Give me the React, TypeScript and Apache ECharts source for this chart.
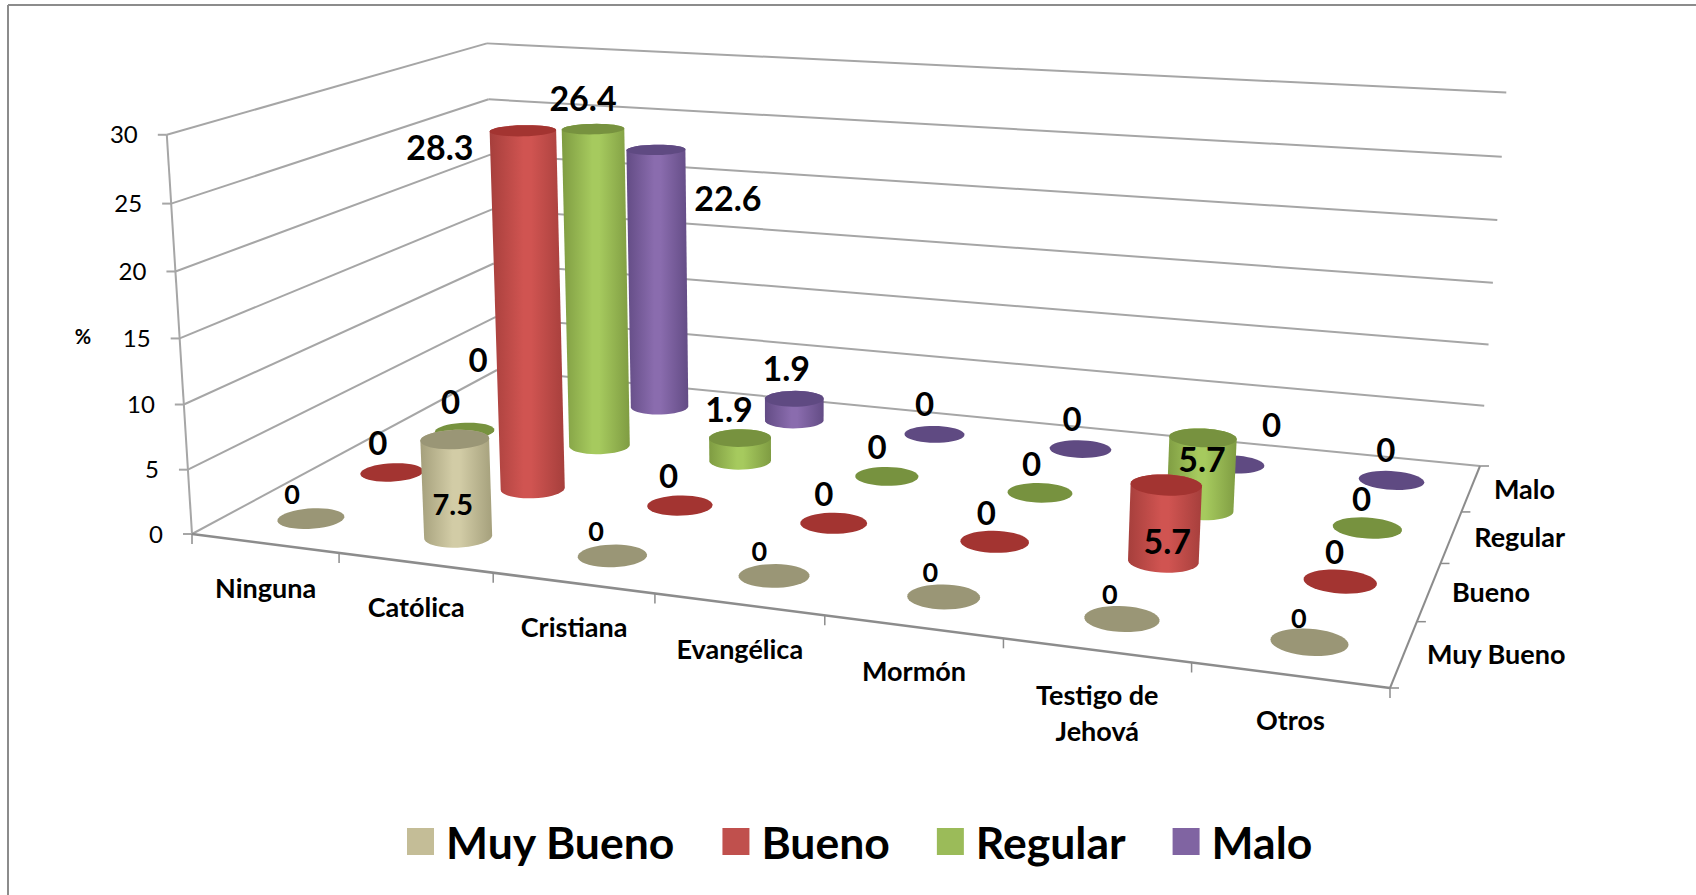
import React, { useEffect, useRef } from "react";
import * as echarts from "echarts";

const categories = ["Ninguna", "Católica", "Cristiana", "Evangélica", "Mormón", "Testigo de\nJehová", "Otros"];
const depthLabels = ["Muy Bueno", "Bueno", "Regular", "Malo"];
const yTicks = [0, 5, 10, 15, 20, 25, 30];
const muyBueno = [0, 7.5, 0, 0, 0, 0, 0];
const bueno = [0, 28.3, 0, 0, 0, 5.7, 0];
const regular = [0, 26.4, 1.9, 0, 0, 5.7, 0];
const malo = [0, 22.6, 1.9, 0, 0, 0, 0];

const FONT = "Lato, Carlito, 'Open Sans', sans-serif";
const Y_MAX = 30;

// ---- projection of the 3D box (u: category 0..1, v: depth 0..1, z: value 0..1)
const floor = [[192, 534], [1390, 688], [1480, 466], [497, 370]];
const wallRefs: number[][] = [
  [0, 0, 1, 164, 131], [0, 0, 5 / 6, 168, 201], [0, 0, 4 / 6, 172, 270], [0, 0, 3 / 6, 179, 337], [0, 0, 2 / 6, 183, 403], [0, 0, 1 / 6, 188, 469],
  [1, 1, 1, 1505, 95], [1, 1, 5 / 6, 1501, 159], [1, 1, 4 / 6, 1497, 221], [1, 1, 3 / 6, 1493, 284], [1, 1, 2 / 6, 1488, 345], [1, 1, 1 / 6, 1485, 408],
  [0, 1, 1, 491, 44], [0, 1, 5 / 6, 494, 100],
];

function buildProjection() {
  const [[x0, y0], [x1, y1], [x2, y2], [x3, y3]] = floor;
  const dx1 = x1 - x2, dx2 = x3 - x2, sx = x0 - x1 + x2 - x3;
  const dy1 = y1 - y2, dy2 = y3 - y2, sy = y0 - y1 + y2 - y3;
  const den = dx1 * dy2 - dx2 * dy1;
  const g = (sx * dy2 - dx2 * sy) / den, h = (dx1 * sy - sx * dy1) / den;
  const a = x1 - x0 + g * x1, b = x3 - x0 + h * x3, c = x0;
  const d = y1 - y0 + g * y1, e = y3 - y0 + h * y3, f = y0;
  // least squares for the z column
  const N = [[0, 0, 0], [0, 0, 0], [0, 0, 0]];
  const R = [0, 0, 0];
  const add = (row: number[], rhs: number) => {
    for (let i = 0; i < 3; i++) {
      R[i] += row[i] * rhs;
      for (let j = 0; j < 3; j++) N[i][j] += row[i] * row[j];
    }
  };
  for (const [u, v, z, x, y] of wallRefs) {
    const W = g * u + h * v + 1;
    add([z, 0, -x * z], x * W - (a * u + b * v + c));
    add([0, z, -y * z], y * W - (d * u + e * v + f));
  }
  for (let i = 0; i < 3; i++) {
    for (let k = i + 1; k < 3; k++) {
      const m = N[k][i] / N[i][i];
      for (let j = i; j < 3; j++) N[k][j] -= m * N[i][j];
      R[k] -= m * R[i];
    }
  }
  const s = [0, 0, 0];
  for (let i = 2; i >= 0; i--) {
    let t = R[i];
    for (let j = i + 1; j < 3; j++) t -= N[i][j] * s[j];
    s[i] = t / N[i][i];
  }
  return (u: number, v: number, z: number): number[] => {
    const W = g * u + h * v + s[2] * z + 1;
    return [(a * u + b * v + s[0] * z + c) / W, (d * u + e * v + s[1] * z + f) / W];
  };
}
const project = buildProjection();
const nC = categories.length;
const nD = depthLabels.length;
const pt = (cat: number, depth: number, val: number) => project(cat / nC, depth / nD, val / Y_MAX);

function hull(points: number[][]) {
  const p = points.slice().sort((m, n) => m[0] - n[0] || m[1] - n[1]);
  const cross = (o: number[], m: number[], n: number[]) => (m[0] - o[0]) * (n[1] - o[1]) - (m[1] - o[1]) * (n[0] - o[0]);
  const lo: number[][] = [], up: number[][] = [];
  for (const q of p) {
    while (lo.length > 1 && cross(lo[lo.length - 2], lo[lo.length - 1], q) <= 0) lo.pop();
    lo.push(q);
  }
  for (const q of p.slice().reverse()) {
    while (up.length > 1 && cross(up[up.length - 2], up[up.length - 1], q) <= 0) up.pop();
    up.push(q);
  }
  return lo.slice(0, -1).concat(up.slice(0, -1));
}

const R_U = 0.2, R_V = 0.2, CELL_MID = 0.515;
function ring(cat: number, depth: number, val: number) {
  const out: number[][] = [];
  for (let k = 0; k < 40; k++) {
    const t = (k / 40) * Math.PI * 2;
    out.push(pt(cat + CELL_MID + R_U * Math.cos(t), depth + 0.5 + R_V * Math.sin(t), val));
  }
  return out;
}

const seriesStyles = [
  { name: "Muy Bueno", values: muyBueno, depth: 0, color: "#c4bd97", cap: "#9a9676", edge: "#a5a07c", mid: "#d2cca6" },
  { name: "Bueno", values: bueno, depth: 1, color: "#c0504d", cap: "#a33431", edge: "#a63f3c", mid: "#d05451" },
  { name: "Regular", values: regular, depth: 2, color: "#9bbb59", cap: "#77923f", edge: "#7f9c42", mid: "#a6ca5e" },
  { name: "Malo", values: malo, depth: 3, color: "#8064a2", cap: "#5f4a82", edge: "#634c85", mid: "#8a6cae" },
];

// label placement, as the hand-moved labels of the reference: [dx, dy, font size]
const labelPlacement: Record<string, number[]> = {
  "Bueno-1": [-83, 16, 34],
  "Regular-1": [-10, -32, 34],
  "Malo-1": [72, 48, 34],
  "Muy Bueno-1": [-2, 64, 29],
  "Regular-2": [-11, -29, 34],
  "Malo-2": [-8, -31, 34],
  "Bueno-5": [1, 56, 34],
  "Regular-5": [-1, 21, 34],
  "Malo-0": [-52, -35, 33],
  "Malo-5": [39, -40, 33],
};
const zeroPlacement: Record<string, number[]> = {
  "Muy Bueno": [-19, -25, 27],
  Bueno: [-14, -30, 33],
  Regular: [-14, -30, 33],
  Malo: [-14, -31, 33],
};
const ZERO_DRIFT = 1.4;

const GRID = "#a6a6a6";
const EDGE = "#8c8c8c";
function line(a: number[], b: number[], stroke = GRID, lineWidth = 2) {
  return {
    type: "line",
    silent: true,
    shape: { x1: a[0], y1: a[1], x2: b[0], y2: b[1] },
    style: { stroke, lineWidth, fill: "none" },
  };
}
function text(str: string, x: number, y: number, fontSize: number, fontWeight: string, align = "center") {
  return {
    type: "text",
    silent: true,
    style: { text: str, x, y, fontFamily: FONT, fontSize, fontWeight, fill: "#000", align, verticalAlign: "middle" },
  };
}

function renderWalls() {
  const children: any[] = [];
  for (const t of yTicks) {
    const a = pt(0, 0, t), b = pt(0, nD, t), c = pt(nC, nD, t);
    children.push(line(a, b));
    children.push(line(b, c));
    children.push(line(a, [a[0] - 9, a[1]]));
    children.push(text(String(t), a[0] - 29, a[1] - 1, 24, "normal", "right"));
  }
  children.push(line(pt(0, 0, 0), pt(0, 0, Y_MAX)));
  children.push(line(pt(0, 0, 0), pt(nC, 0, 0), EDGE, 2.5));
  children.push(line(pt(nC, 0, 0), pt(nC, nD, 0), EDGE, 2));
  for (let i = 0; i <= nC; i++) {
    const a = pt(i, 0, 0);
    children.push(line(a, [a[0], a[1] + 10], EDGE, 1.5));
  }
  categories.forEach((name, i) => {
    const m = pt(i + 0.5, 0, 0);
    const parts = name.split("\n");
    parts.forEach((p, k) => {
      children.push(text(p, m[0] + 1, m[1] + 44 + (parts.length > 1 ? k * 36 : 0), 27, "bold"));
    });
  });
  for (let j = 0; j <= nD; j++) {
    const a = pt(nC, j, 0);
    children.push(line(a, [a[0] + 9, a[1]], EDGE, 1.5));
  }
  depthLabels.forEach((name, j) => {
    const m = pt(nC, j + 0.5, 0);
    children.push(text(name, m[0] + 23, m[1], 27, "bold", "left"));
  });
  children.push(text("%", 83, 336, 20, "bold"));
  return { type: "group", children };
}

function renderCylinder(style: (typeof seriesStyles)[number], cat: number, val: number) {
  const children: any[] = [];
  const top = ring(cat, style.depth, val);
  if (val > 0) {
    const body = hull(ring(cat, style.depth, 0).concat(top));
    children.push({
      type: "polygon",
      silent: true,
      shape: { points: body },
      style: {
        fill: new echarts.graphic.LinearGradient(0, 0, 1, 0, [
          { offset: 0, color: style.edge },
          { offset: 0.45, color: style.mid },
          { offset: 0.55, color: style.mid },
          { offset: 1, color: style.edge },
        ]),
      },
    });
  }
  children.push({ type: "polygon", silent: true, shape: { points: top }, style: { fill: style.cap } });
  return { type: "group", children };
}

function renderLabel(styleIndex: number, cat: number, val: number) {
  const style = seriesStyles[styleIndex];
  const center = pt(cat + CELL_MID, style.depth + 0.5, val);
  const own = labelPlacement[`${style.name}-${cat}`];
  const place = own || zeroPlacement[style.name];
  const drift = own ? 0 : cat * ZERO_DRIFT;
  return text(String(val), center[0] + place[0] + drift, center[1] + place[1], place[2], "bold");
}

export default function App() {
  const ref = useRef<HTMLDivElement>(null);
  useEffect(() => {
    const chart = echarts.init(ref.current!, undefined, { renderer: "svg" });
    chart.setOption({
      animation: false,
      backgroundColor: "#fff",
      legend: {
        data: depthLabels,
        left: 402,
        top: 814,
        icon: "rect",
        itemWidth: 27,
        itemHeight: 27,
        itemGap: 47,
        selectedMode: false,
        textStyle: { fontFamily: FONT, fontSize: 44.5, fontWeight: "bold", color: "#000", padding: [0, 0, 4, 7] },
      },
      graphic: [
        { type: "line", silent: true, shape: { x1: 8, y1: 5, x2: 1696, y2: 5 }, style: { stroke: "#8c8c8c", lineWidth: 2 } },
        { type: "line", silent: true, shape: { x1: 8, y1: 5, x2: 8, y2: 895 }, style: { stroke: "#8c8c8c", lineWidth: 2 } },
      ],
      series: [
        {
          type: "custom",
          name: "walls",
          coordinateSystem: "none",
          z: 1,
          silent: true,
          data: [[0]],
          renderItem: () => renderWalls(),
        },
        ...seriesStyles.map((s) => ({
          type: "custom",
          name: s.name,
          coordinateSystem: "none",
          z: 6 - s.depth,
          silent: true,
          itemStyle: { color: s.color },
          data: s.values.map((v, i) => [i, v]),
          renderItem: (_: any, api: any) => renderCylinder(s, api.value(0), api.value(1)),
        })),
        {
          type: "custom",
          name: "labels",
          coordinateSystem: "none",
          z: 10,
          silent: true,
          data: seriesStyles.flatMap((s, si) => s.values.map((v, i) => [si, i, v])),
          renderItem: (_: any, api: any) => renderLabel(api.value(0), api.value(1), api.value(2)),
        },
      ],
    });
    return () => chart.dispose();
  }, []);
  return <div ref={ref} style={{ position: "fixed", left: 0, top: 0, width: 1696, height: 895 }} />;
}
